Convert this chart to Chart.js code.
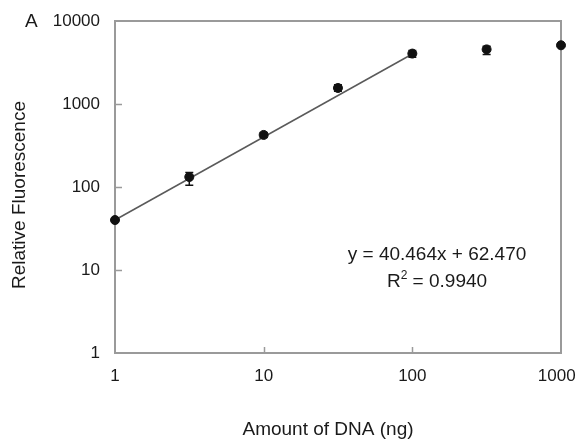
<!DOCTYPE html>
<html>
<head>
<meta charset="utf-8">
<script src="https://cdn.jsdelivr.net/npm/chart.js@4.4.0/dist/chart.umd.min.js"></script>
<style>
  html, body { margin: 0; padding: 0; background: #fff; }
  #wrap { width: 578px; height: 444px; position: relative; }
</style>
</head>
<body>
<div id="wrap"><canvas id="c" width="578" height="444"></canvas></div>
<script>
// ---- data ----
const dnaAmounts = [1, 3.16, 10, 31.6, 100, 316, 1000];
const fluorescence = [40, 132, 424, 1560, 4050, 4550, 5100];
const errLow = [40, 105, 395, 1420, 3650, 3950, 5000];
const errHigh = [40, 150, 455, 1700, 4400, 4950, 5200];
const fitX = [1, 100];
const fitY = [40, 4000];
const xTicks = [1, 10, 100, 1000];
const yTicks = [1, 10, 100, 1000, 10000];
const equationText = 'y = 40.464x + 62.470';
const r2Label = 'R';
const r2Value = ' = 0.9940';
const panelLabel = 'A';
const xTitle = 'Amount of DNA (ng)';
const yTitle = 'Relative Fluorescence';

const FONT = '"Liberation Sans", Arial, Helvetica, sans-serif';
const AXIS = '#9a9a9a';
const TEXT = '#1a1a1a';

const points = dnaAmounts.map((x, i) => ({ x: x, y: fluorescence[i], lo: errLow[i], hi: errHigh[i] }));
const fitLine = fitX.map((x, i) => ({ x: x, y: fitY[i] }));

const decorPlugin = {
  id: 'decor',
  beforeDatasetsDraw(chart) {
    const { ctx, chartArea: a, scales } = chart;
    ctx.save();
    ctx.strokeStyle = AXIS;
    ctx.lineWidth = 2;
    ctx.strokeRect(a.left, a.top, a.right - a.left, a.bottom - a.top);
    ctx.lineWidth = 1.5;
    yTicks.forEach(v => {
      if (v === yTicks[0] || v === yTicks[yTicks.length - 1]) return;
      const y = Math.round(scales.y.getPixelForValue(v)) + 0.5;
      ctx.beginPath(); ctx.moveTo(a.left, y); ctx.lineTo(a.left + 7, y); ctx.stroke();
    });
    xTicks.forEach(v => {
      if (v === xTicks[0] || v === xTicks[xTicks.length - 1]) return;
      const x = Math.round(scales.x.getPixelForValue(v)) + 0.5;
      ctx.beginPath(); ctx.moveTo(x, a.bottom); ctx.lineTo(x, a.bottom - 6); ctx.stroke();
    });
    ctx.restore();
  },
  afterDatasetsDraw(chart) {
    const { ctx, scales } = chart;
    ctx.save();
    ctx.strokeStyle = '#111';
    ctx.lineWidth = 1.5;
    points.forEach(p => {
      const x = scales.x.getPixelForValue(p.x);
      const yl = scales.y.getPixelForValue(p.lo);
      const yh = scales.y.getPixelForValue(p.hi);
      if (Math.abs(yl - yh) < 1) return;
      ctx.beginPath();
      ctx.moveTo(x, yl); ctx.lineTo(x, yh);
      ctx.moveTo(x - 4, yl); ctx.lineTo(x + 4, yl);
      ctx.moveTo(x - 4, yh); ctx.lineTo(x + 4, yh);
      ctx.stroke();
    });
    ctx.restore();
  },
  afterDraw(chart) {
    const { ctx } = chart;
    ctx.save();
    ctx.fillStyle = TEXT;
    ctx.textBaseline = 'middle';
    ctx.font = '19px ' + FONT;
    ctx.textAlign = 'left';
    ctx.fillText(panelLabel, 25, 22);
    ctx.textAlign = 'center';
    ctx.fillText(equationText, 437, 255);
    const w1 = ctx.measureText(r2Label).width;
    ctx.font = '12px ' + FONT;
    const w2 = ctx.measureText('2').width;
    ctx.font = '19px ' + FONT;
    const w3 = ctx.measureText(r2Value).width;
    const sx = 437 - (w1 + w2 + w3) / 2;
    ctx.textAlign = 'left';
    ctx.fillText(r2Label, sx, 282);
    ctx.font = '12px ' + FONT;
    ctx.fillText('2', sx + w1, 276);
    ctx.font = '19px ' + FONT;
    ctx.fillText(r2Value, sx + w1 + w2, 282);
    ctx.textAlign = 'center';
    ctx.fillText(xTitle, 328, 430);
    ctx.translate(20, 195);
    ctx.rotate(-Math.PI / 2);
    ctx.fillText(yTitle, 0, 0);
    ctx.restore();
  }
};

new Chart(document.getElementById('c'), {
  type: 'scatter',
  data: {
    datasets: [
      {
        type: 'line',
        data: fitLine,
        borderColor: '#5a5a5a',
        borderWidth: 1.5,
        pointRadius: 0,
        fill: false,
        clip: false,
        order: 2
      },
      {
        data: points,
        backgroundColor: '#111',
        borderColor: '#111',
        pointRadius: 4.5,
        pointHoverRadius: 4.5,
        clip: false,
        order: 1
      }
    ]
  },
  options: {
    responsive: false,
    animation: false,
    devicePixelRatio: 1,
    layout: { padding: { top: 21, right: 17, left: 0, bottom: 0 } },
    plugins: { legend: { display: false }, tooltip: { enabled: false }, title: { display: false } },
    scales: {
      x: {
        type: 'logarithmic',
        min: 1, max: 1000,
        afterBuildTicks: s => { s.ticks = xTicks.map(v => ({ value: v })); },
        afterFit: s => { s.height = 91; s.paddingLeft = 0; s.paddingRight = 0; },
        grid: { display: false, drawTicks: false },
        border: { display: false },
        ticks: { color: TEXT, font: { family: FONT, size: 17 }, padding: 13, maxRotation: 0, autoSkip: false,
                 callback: v => (v === xTicks[xTicks.length - 1] ? String(v) + '\u2002' : String(v)) }
      },
      y: {
        type: 'logarithmic',
        min: 1, max: 10000,
        afterBuildTicks: s => { s.ticks = yTicks.map(v => ({ value: v })); },
        afterFit: s => { s.width = 115; s.paddingTop = 0; s.paddingBottom = 0; },
        grid: { display: false, drawTicks: false },
        border: { display: false },
        ticks: { color: TEXT, font: { family: FONT, size: 17 }, padding: 15, autoSkip: false, callback: v => String(v) }
      }
    }
  },
  plugins: [decorPlugin]
});
</script>
</body>
</html>
